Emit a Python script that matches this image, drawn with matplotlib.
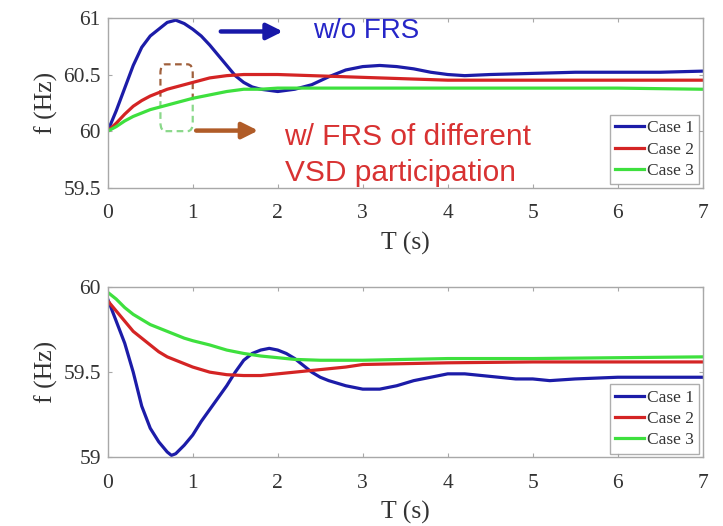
import matplotlib
matplotlib.use("Agg")
import matplotlib.pyplot as plt
from matplotlib.patches import FancyBboxPatch, Rectangle


# frequency response, load rejection (frequency rises)
T_RISE_1 = [0, 0.1, 0.2, 0.3, 0.4, 0.5, 0.6, 0.7, 0.8, 0.9, 1.0, 1.1, 1.2, 1.3,
            1.4, 1.5, 1.6, 1.7, 1.8, 1.9, 2.0, 2.2, 2.4, 2.6, 2.8, 3.0, 3.2,
            3.4, 3.6, 3.8, 4.0, 4.2, 4.5, 5.0, 5.5, 6.0, 6.5, 7.0]
F_RISE_1 = [60.00, 60.18, 60.38, 60.58, 60.74, 60.84, 60.90, 60.96, 60.98,
            60.95, 60.90, 60.84, 60.76, 60.67, 60.58, 60.49, 60.43, 60.39,
            60.37, 60.36, 60.35, 60.37, 60.41, 60.48, 60.54, 60.57, 60.58,
            60.57, 60.55, 60.52, 60.50, 60.49, 60.50, 60.51, 60.52, 60.52,
            60.52, 60.53]

T_RISE_2 = [0, 0.1, 0.2, 0.3, 0.4, 0.5, 0.6, 0.7, 0.8, 0.9, 1.0, 1.2, 1.4,
            1.6, 1.8, 2.0, 2.4, 2.8, 3.2, 3.6, 4.0, 5.0, 6.0, 7.0]
F_RISE_2 = [60.00, 60.07, 60.15, 60.22, 60.27, 60.31, 60.34, 60.37, 60.39,
            60.41, 60.43, 60.47, 60.49, 60.50, 60.50, 60.50, 60.49, 60.48,
            60.47, 60.46, 60.45, 60.45, 60.45, 60.45]

T_RISE_3 = [0, 0.1, 0.2, 0.3, 0.4, 0.5, 0.6, 0.7, 0.8, 0.9, 1.0, 1.2, 1.4,
            1.6, 1.8, 2.0, 2.5, 3.0, 4.0, 5.0, 6.0, 7.0]
F_RISE_3 = [60.00, 60.04, 60.09, 60.13, 60.16, 60.19, 60.21, 60.23, 60.25,
            60.27, 60.29, 60.32, 60.35, 60.37, 60.37, 60.38, 60.38, 60.38,
            60.38, 60.38, 60.38, 60.37]

# frequency response, load pick-up (frequency drops)
T_DROP_1 = [0, 0.1, 0.2, 0.3, 0.4, 0.5, 0.6, 0.7, 0.75, 0.8, 0.9, 1.0, 1.1,
            1.2, 1.3, 1.4, 1.5, 1.6, 1.7, 1.8, 1.9, 2.0, 2.1, 2.2, 2.3, 2.4,
            2.5, 2.6, 2.8, 3.0, 3.2, 3.4, 3.6, 3.8, 4.0, 4.2, 4.4, 4.6, 4.8,
            5.0, 5.2, 5.5, 6.0, 6.5, 7.0]
F_DROP_1 = [59.93, 59.80, 59.67, 59.50, 59.30, 59.17, 59.09, 59.03, 59.01,
            59.02, 59.07, 59.13, 59.21, 59.28, 59.35, 59.42, 59.50, 59.57,
            59.61, 59.63, 59.64, 59.63, 59.61, 59.58, 59.54, 59.50, 59.47,
            59.45, 59.42, 59.40, 59.40, 59.42, 59.45, 59.47, 59.49, 59.49,
            59.48, 59.47, 59.46, 59.46, 59.45, 59.46, 59.47, 59.47, 59.47]

T_DROP_2 = [0, 0.1, 0.2, 0.3, 0.4, 0.5, 0.6, 0.7, 0.8, 0.9, 1.0, 1.2, 1.4,
            1.6, 1.8, 2.0, 2.2, 2.4, 2.6, 2.8, 3.0, 3.5, 4.0, 5.0, 6.0, 7.0]
F_DROP_2 = [59.92, 59.86, 59.80, 59.74, 59.70, 59.66, 59.62, 59.59, 59.57,
            59.55, 59.53, 59.50, 59.485, 59.48, 59.48, 59.49, 59.50, 59.51,
            59.52, 59.53, 59.545, 59.55, 59.555, 59.56, 59.56, 59.56]

T_DROP_3 = [0, 0.1, 0.2, 0.3, 0.4, 0.5, 0.6, 0.7, 0.8, 0.9, 1.0, 1.2, 1.4,
            1.6, 1.8, 2.0, 2.2, 2.5, 3.0, 3.5, 4.0, 5.0, 6.0, 7.0]
F_DROP_3 = [59.97, 59.93, 59.88, 59.84, 59.81, 59.78, 59.76, 59.74, 59.72,
            59.70, 59.685, 59.66, 59.63, 59.61, 59.595, 59.585, 59.575,
            59.57, 59.57, 59.575, 59.58, 59.58, 59.585, 59.59]

CASE_LABELS = ["Case 1", "Case 2", "Case 3"]
CASE_COLORS = ["#1c1ca8", "#d42424", "#3ee03e"]

X_TICKS = [0, 1, 2, 3, 4, 5, 6, 7]
Y_TICKS_RISE = [59.5, 60, 60.5, 61]
Y_TICKS_DROP = [59, 59.5, 60]

plt.rcParams["font.family"] = ["Liberation Serif", "DejaVu Serif"]

SPINE = "#a8a8a8"
TEXT = "#333333"


def style_axes(ax, yticks):
    ax.set_xlim(0, 7)
    ax.set_ylim(yticks[0], yticks[-1])
    ax.set_xticks(X_TICKS)
    ax.set_yticks(yticks)
    ax.set_yticklabels([f"{v:g}" for v in yticks])
    for s in ax.spines.values():
        s.set_color(SPINE)
        s.set_linewidth(1.0)
    ax.tick_params(direction="in", top=True, right=True, length=3,
                   color=SPINE, labelcolor=TEXT, labelsize=15.5)
    ax.tick_params(axis="x", pad=12)
    ax.tick_params(axis="y", pad=5)
    ax.set_xlabel("T (s)", fontsize=18.5, color=TEXT, labelpad=6)
    ax.set_ylabel("f (Hz)", fontsize=18.5, color=TEXT, labelpad=4)


def add_legend(ax):
    leg = ax.legend(loc="lower right", fontsize=12.5, frameon=True,
                    fancybox=False, borderaxespad=0.2, handlelength=1.7,
                    handletextpad=0.15, labelspacing=0.3, borderpad=0.3)
    leg.get_frame().set_edgecolor("#9a9a9a")
    leg.get_frame().set_linewidth(1.0)
    for txt in leg.get_texts():
        txt.set_color(TEXT)


fig = plt.figure(figsize=(7.23, 5.26), dpi=100)
ax_top = fig.add_axes([0.149, 0.643, 0.823, 0.323])
ax_bot = fig.add_axes([0.149, 0.131, 0.823, 0.323])

rise = [(T_RISE_1, F_RISE_1), (T_RISE_2, F_RISE_2), (T_RISE_3, F_RISE_3)]
drop = [(T_DROP_1, F_DROP_1), (T_DROP_2, F_DROP_2), (T_DROP_3, F_DROP_3)]

for ax, series in ((ax_top, rise), (ax_bot, drop)):
    for (t, f), lab, col in zip(series, CASE_LABELS, CASE_COLORS):
        ax.plot(t, f, color=col, lw=2.3, label=lab)

style_axes(ax_top, Y_TICKS_RISE)
style_axes(ax_bot, Y_TICKS_DROP)
add_legend(ax_top)
add_legend(ax_bot)

# annotations on the upper panel
ax_top.annotate("", xy=(2.06, 60.88), xytext=(1.33, 60.88),
                arrowprops=dict(arrowstyle="-|>", color="#1818a8", lw=3.2,
                                mutation_scale=24, shrinkA=0, shrinkB=0))
ax_top.text(2.41, 60.88, "w/o FRS", color="#2626c8", fontsize=20,
            family="Liberation Sans", va="center", ha="left")

ax_top.annotate("", xy=(1.77, 60.005), xytext=(1.04, 60.005),
                arrowprops=dict(arrowstyle="-|>", color="#b05c28", lw=3.2,
                                mutation_scale=24, shrinkA=0, shrinkB=0))
ax_top.text(2.08, 59.95, "w/ FRS of different", color="#d83232",
            fontsize=21.5, family="Liberation Sans", va="center", ha="left")
ax_top.text(2.08, 59.63, "VSD participation", color="#d83232",
            fontsize=21.5, family="Liberation Sans", va="center", ha="left")

# dashed highlight box: brown upper half, green lower half
for color, (y0, y1) in (("#a0603c", (60.30, 60.70)),
                        ("#8ad88a", (59.90, 60.30))):
    box = FancyBboxPatch((0.62, 60.0), 0.38, 0.59,
                         boxstyle="round,pad=0,rounding_size=0.06",
                         mutation_aspect=1.3, fill=False, edgecolor=color,
                         lw=1.6, ls=(0, (3, 2)))
    ax_top.add_patch(box)
    clip = Rectangle((0.5, y0), 0.6, y1 - y0, transform=ax_top.transData)
    box.set_clip_path(clip)

fig.savefig("out.png", dpi=100)
